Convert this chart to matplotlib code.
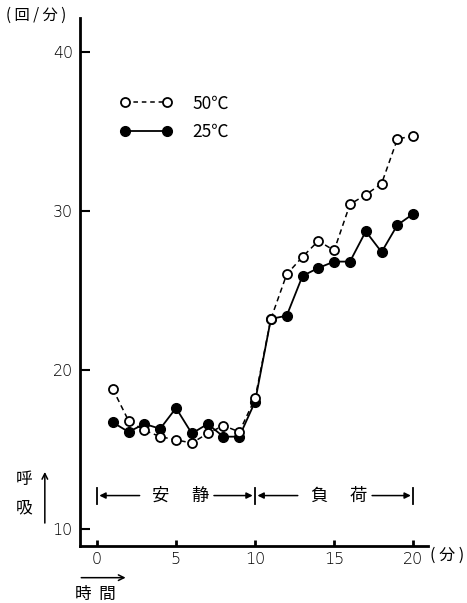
import matplotlib
matplotlib.use("Agg")
import matplotlib.pyplot as plt
from matplotlib.lines import Line2D

plt.rcParams['font.family'] = ['Noto Sans CJK JP', 'DejaVu Sans']

minutes = list(range(1, 21))
resp_50 = [18.8, 16.8, 16.2, 15.8, 15.6, 15.4, 16.0, 16.5, 16.1, 18.2,
           23.2, 26.0, 27.1, 28.1, 27.5, 30.4, 31.0, 31.7, 34.5, 34.7]
resp_25 = [16.7, 16.1, 16.6, 16.3, 17.6, 16.0, 16.6, 15.8, 15.8, 18.0,
           23.2, 23.4, 25.9, 26.4, 26.8, 26.8, 28.7, 27.4, 29.1, 29.8]
labels = ['50℃', '25℃']
x_ticks = [0, 5, 10, 15, 20]
y_ticks = [10, 20, 30, 40]
phase_names = [('安', '静'), ('負', '荷')]
phase_bounds = [0, 10, 20]

fig = plt.figure(figsize=(4.67, 6.03), dpi=100)
ax = fig.add_axes([0.171, 0.0945, 0.746, 0.8755])
ax.set_xlim(-1.08, 20.95)
ax.set_ylim(8.93, 42.1)

ax.plot(minutes, resp_50, linestyle=(0, (3.5, 2.5)), color='black', lw=1.1,
        marker='o', ms=6.5, mfc='white', mec='black', mew=1.3, zorder=3)
ax.plot(minutes, resp_25, linestyle='-', color='black', lw=1.3,
        marker='o', ms=7, mfc='black', mec='black', zorder=2)

for s in ['top', 'right']:
    ax.spines[s].set_visible(False)
ax.spines['left'].set_linewidth(2.0)
ax.spines['bottom'].set_linewidth(2.0)
ax.set_xticks(x_ticks)
ax.set_yticks(y_ticks)
ax.tick_params(axis='y', direction='in', length=7, width=1.5, labelsize=11.5, pad=5)
ax.tick_params(axis='x', direction='in', length=4, width=2.0, labelsize=11.5, pad=4)
for lab in ax.get_xticklabels() + ax.get_yticklabels():
    lab.set_fontfamily(['DejaVu Sans'])
    lab.set_fontweight('light')

handles = [
    Line2D([], [], linestyle=(0, (3, 2.5)), color='black', lw=1.1, marker='o',
           ms=6.5, mfc='white', mec='black', mew=1.3),
    Line2D([], [], linestyle='-', color='black', lw=1.3, marker='o', ms=7,
           mfc='black', mec='black'),
]
ax.legend(handles, labels, loc='upper left', bbox_to_anchor=(0.07, 0.885),
          frameon=False, numpoints=2, handlelength=3.0, handletextpad=1.2,
          labelspacing=0.6, fontsize=12.5)

# phase brackets
yb = 12.1
for xb in phase_bounds:
    ax.plot([xb, xb], [yb - 0.5, yb + 0.5], color='black', lw=1.3, clip_on=False)
for i, (a, b) in enumerate(phase_names):
    x0, x1 = phase_bounds[i], phase_bounds[i + 1]
    ax.annotate('', xy=(x0 + 0.15, yb), xytext=(x0 + 2.7, yb),
                arrowprops=dict(arrowstyle='-|>', color='black', lw=1.1,
                                mutation_scale=9, shrinkA=0, shrinkB=0))
    ax.annotate('', xy=(x1 - 0.15, yb), xytext=(x1 - 2.6, yb),
                arrowprops=dict(arrowstyle='-|>', color='black', lw=1.1,
                                mutation_scale=9, shrinkA=0, shrinkB=0))
    ax.text(x0 + 4.0, yb, a, ha='center', va='center', fontsize=12.5)
    ax.text(x0 + 6.5, yb, b, ha='center', va='center', fontsize=12.5)

# axis labels
fig.text(0.012, 0.975, '( 回 / 分 )', ha='left', va='center', fontsize=11)
fig.text(0.92, 0.079, '( 分 )', ha='left', va='center', fontsize=11.5)
fig.text(0.052, 0.205, '呼', ha='center', va='center', fontsize=12)
fig.text(0.052, 0.158, '吸', ha='center', va='center', fontsize=12)
fig.add_artist(matplotlib.patches.FancyArrowPatch(
    (0.096, 0.128), (0.096, 0.222), transform=fig.transFigure,
    arrowstyle='->', mutation_scale=10, lw=1.1, color='black'))
fig.add_artist(matplotlib.patches.FancyArrowPatch(
    (0.168, 0.042), (0.275, 0.042), transform=fig.transFigure,
    arrowstyle='->', mutation_scale=10, lw=1.1, color='black'))
fig.text(0.16, 0.014, '時  間', ha='left', va='center', fontsize=12)

fig.savefig('out.png', dpi=100)
